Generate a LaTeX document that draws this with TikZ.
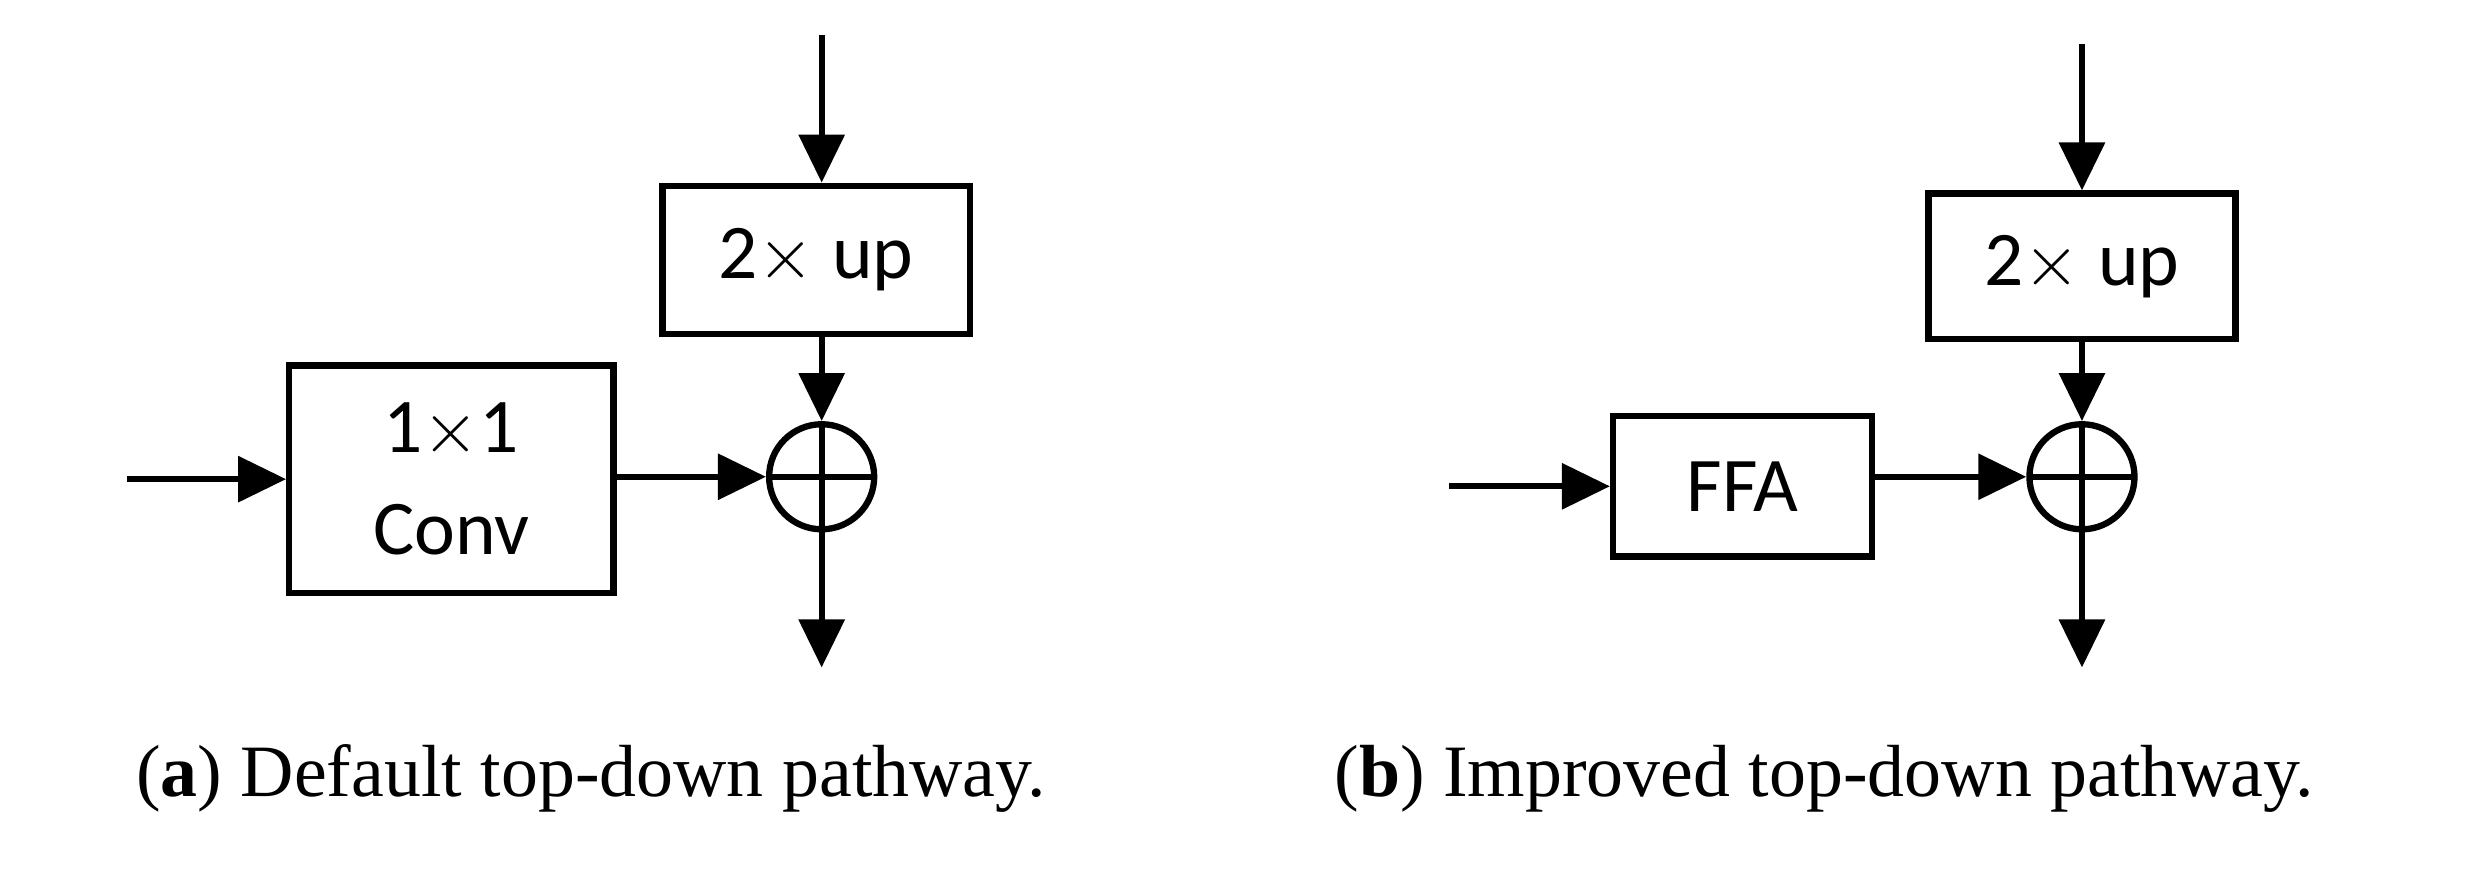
\documentclass[tikz,border=0pt]{standalone}
\usepackage{fontspec}
\newfontfamily\boxfont{Carlito}
\newfontfamily\capfont{Liberation Serif}
\usetikzlibrary{arrows.meta}
\newcommand{\linethick}{1.8pt}
\tikzset{
  blockbox/.style={draw, line width=\linethick, minimum width=#1, inner sep=0pt,
    align=center, font=\boxfont\fontsize{22}{27}\selectfont},
  sumnode/.style={draw, circle, line width=\linethick, minimum size=1.05cm, inner sep=0pt,
    path picture={\draw[line width=\linethick]
      (path picture bounding box.north) -- (path picture bounding box.south)
      (path picture bounding box.west) -- (path picture bounding box.east);}},
  flow/.style={line width=\linethick, -{Triangle[length=0.48cm, width=0.45cm]}},
  caption/.style={font=\capfont\fontsize{21}{25}\selectfont, anchor=west}
}
\begin{document}
\begin{tikzpicture}[x=0.01589cm, y=-0.01589cm]
  \useasboundingbox (0,0) rectangle (1568,554);

  % (a) default pathway
  \node[blockbox=3.07cm, minimum height=1.48cm] (upa) at (513.5,163.5) {2$\times$ up};
  \node[blockbox=3.24cm, minimum height=2.27cm] (conva) at (284,301.5) {1$\times$1\\[2pt]Conv};
  \node[sumnode] (suma) at (517,300) {};
  \coordinate (topa) at (517,22);
  \coordinate (ina) at (80,301.5);
  \coordinate (outa) at (517,420);
  \draw[flow] (topa) -- (topa |- upa.north);
  \draw[flow] (upa.south -| suma) -- (suma.north);
  \draw[flow] (ina) -- (conva.west);
  \draw[flow] (conva.east |- suma) -- (suma.west);
  \draw[flow] (suma.south) -- (outa);

  % (b) improved pathway
  \node[blockbox=3.07cm, minimum height=1.45cm] (upb) at (1310,167.5) {2$\times$ up};
  \node[blockbox=2.59cm, minimum height=1.40cm] (ffab) at (1096.5,306) {FFA};
  \node[sumnode] (sumb) at (1310,300) {};
  \coordinate (topb) at (1310,28);
  \coordinate (inb) at (912,306);
  \coordinate (outb) at (1310,420);
  \draw[flow] (topb) -- (topb |- upb.north);
  \draw[flow] (upb.south -| sumb) -- (sumb.north);
  \draw[flow] (inb) -- (ffab.west);
  \draw[flow] (ffab.east |- sumb) -- (sumb.west);
  \draw[flow] (sumb.south) -- (outb);

  % captions
  \node[caption] (capa) at (78,490) {(\textbf{a}) Default top-down pathway.};
  \node[caption] (capb) at (832,490) {(\textbf{b}) Improved top-down pathway.};
\end{tikzpicture}
\end{document}
